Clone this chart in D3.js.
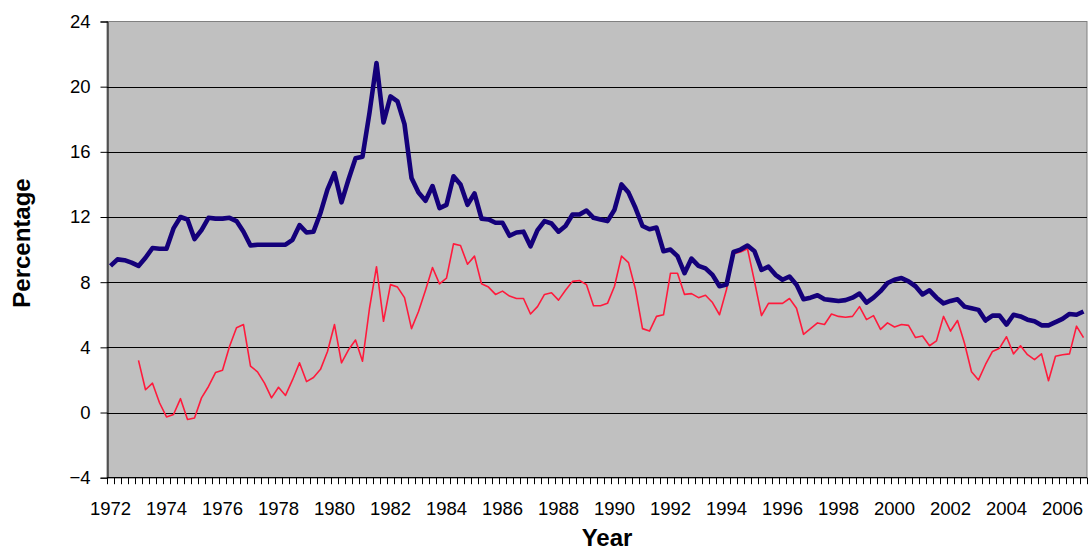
<!DOCTYPE html>
<html lang="en">
<head>
    <meta charset="UTF-8">
    <title>Percentage by Year</title>
    <script src="https://d3js.org/d3.v7.min.js"></script>
    <style>
        body {
            margin: 0;
            padding: 0;
            background: #fff;
            font-family: "Liberation Sans", Arial, sans-serif;
        }

        .tick-label {
            font-size: 18.5px;
            fill: #000;
        }

        .axis-title {
            font-size: 24px;
            font-weight: bold;
            fill: #000;
        }
    </style>
</head>
<body>
    <svg id="chart" width="1088" height="550"></svg>

    <script>
        // quarterly categories 1972 Q1 .. 2006 Q4
        const years = d3.range(1972, 2007);
        const quarters = years.flatMap(y => [1, 2, 3, 4].map(q => `${y}Q${q}`));

        const xTickLabels = ["1972", "1974", "1976", "1978", "1980", "1982", "1984", "1986", "1988",
            "1990", "1992", "1994", "1996", "1998", "2000", "2002", "2004", "2006"];
        const yTicks = [-4, 0, 4, 8, 12, 16, 20, 24];

        // thick navy series
        const blueSeries = [
            9.0, 9.4, 9.35, 9.2, 9.0, 9.5, 10.1, 10.05, 10.05, 11.3,
            12.0, 11.85, 10.65, 11.2, 11.95, 11.9, 11.9, 11.95, 11.75, 11.1,
            10.25, 10.3, 10.3, 10.3, 10.3, 10.3, 10.6, 11.5, 11.05, 11.1,
            12.25, 13.7, 14.7, 12.9, 14.3, 15.6, 15.7, 18.4, 21.45, 17.8,
            19.4, 19.1, 17.7, 14.4, 13.5, 13.0, 13.9, 12.55, 12.75, 14.5,
            14.0, 12.75, 13.45, 11.9, 11.85, 11.65, 11.65, 10.85, 11.05, 11.1,
            10.2, 11.2, 11.75, 11.6, 11.1, 11.45, 12.15, 12.15, 12.4, 11.95,
            11.85, 11.75, 12.45, 14.0, 13.5, 12.55, 11.45, 11.25, 11.35, 9.9,
            10.0, 9.6, 8.55, 9.45, 9.0, 8.85, 8.45, 7.75, 7.85, 9.85,
            10.0, 10.25, 9.9, 8.75, 8.95, 8.45, 8.15, 8.35, 7.85, 6.95,
            7.05, 7.2, 6.95, 6.9, 6.85, 6.9, 7.05, 7.3, 6.75, 7.05,
            7.45, 7.95, 8.15, 8.25, 8.05, 7.75, 7.25, 7.5, 7.05, 6.7,
            6.85, 6.95, 6.5, 6.4, 6.3, 5.65, 5.95, 5.95, 5.4, 6.0,
            5.9, 5.7, 5.6, 5.35, 5.35, 5.55, 5.75, 6.05, 6.0, 6.2
        ];

        // thin red series, starts in 1973
        const redSeries = [
            null, null, null, null,
            3.2, 1.4, 1.8, 0.6, -0.27, -0.12, 0.85, -0.43, -0.33, 0.9,
            1.6, 2.45, 2.6, 4.05, 5.2, 5.4, 2.85, 2.5, 1.8, 0.9,
            1.55, 1.05, 2.0, 3.05, 1.9, 2.15, 2.65, 3.75, 5.4, 3.05,
            3.85, 4.45, 3.15, 6.4, 8.95, 5.6, 7.85, 7.7, 7.05, 5.15,
            6.2, 7.5, 8.9, 7.9, 8.25, 10.35, 10.25, 9.1, 9.6, 7.9,
            7.7, 7.25, 7.45, 7.15, 7.0, 7.0, 6.05, 6.5, 7.25, 7.35,
            6.9, 7.5, 8.05, 8.1, 7.85, 6.55, 6.55, 6.7, 7.75, 9.6,
            9.2, 7.55, 5.15, 5.0, 5.9, 6.0, 8.55, 8.55, 7.25, 7.3,
            7.05, 7.2, 6.75, 6.0, 7.55, 9.75, 9.85, 10.05, 8.05, 5.95,
            6.7, 6.7, 6.7, 7.0, 6.4, 4.8, 5.15, 5.5, 5.4, 6.05,
            5.9, 5.85, 5.9, 6.5, 5.7, 5.95, 5.1, 5.5, 5.25, 5.4,
            5.35, 4.6, 4.7, 4.1, 4.4, 5.9, 5.0, 5.65, 4.25, 2.5,
            2.0, 2.95, 3.75, 3.95, 4.65, 3.6, 4.1, 3.55, 3.25, 3.6,
            1.95, 3.45, 3.55, 3.6, 5.3, 4.6
        ];

        const plotLeft = 107, plotRight = 1087, plotTop = 21.5, plotBottom = 477.7;
        const svg = d3.select("#chart");

        const x = d3.scaleBand()
            .domain(quarters)
            .range([plotLeft, plotRight])
            .paddingInner(0)
            .paddingOuter(0);

        const y = d3.scaleLinear()
            .domain([-4, 24])
            .range([plotBottom, plotTop]);

        const cx = q => x(q) + x.bandwidth() / 2;

        // plot area
        svg.append("rect")
            .attr("x", plotLeft)
            .attr("y", plotTop)
            .attr("width", plotRight - plotLeft)
            .attr("height", plotBottom - plotTop)
            .attr("fill", "#c0c0c0")
            .attr("stroke", "#808080")
            .attr("stroke-width", 1);

        // gridlines
        svg.append("g")
            .selectAll("line")
            .data(yTicks.filter(d => d > -4 && d < 24))
            .join("line")
            .attr("x1", plotLeft)
            .attr("x2", plotRight)
            .attr("y1", d => Math.round(y(d)) + 0.5)
            .attr("y2", d => Math.round(y(d)) + 0.5)
            .attr("stroke", "#000")
            .attr("stroke-width", 1);

        // y axis
        const yAxis = svg.append("g")
            .attr("transform", `translate(${plotLeft + 0.5},0)`)
            .call(d3.axisLeft(y).tickValues(yTicks).tickSize(7).tickPadding(10));
        yAxis.select(".domain").attr("stroke", "#000");
        yAxis.selectAll(".tick line").attr("stroke", "#000");
        yAxis.selectAll(".tick text")
            .attr("class", "tick-label")
            .style("font-family", "'Liberation Sans', Arial, sans-serif");

        // x axis: tick marks at quarter boundaries
        const xAxisG = svg.append("g");
        xAxisG.append("line")
            .attr("x1", plotLeft)
            .attr("x2", plotRight)
            .attr("y1", plotBottom)
            .attr("y2", plotBottom)
            .attr("stroke", "#000")
            .attr("stroke-width", 1.2);
        xAxisG.selectAll("line.qtick")
            .data(quarters.concat(["end"]))
            .join("line")
            .attr("class", "qtick")
            .attr("x1", (d, i) => Math.round(plotLeft + i * x.bandwidth()) + 0.5)
            .attr("x2", (d, i) => Math.round(plotLeft + i * x.bandwidth()) + 0.5)
            .attr("y1", plotBottom)
            .attr("y2", plotBottom + 6.5)
            .attr("stroke", "#000")
            .attr("stroke-width", 1);
        xAxisG.selectAll("text")
            .data(xTickLabels)
            .join("text")
            .attr("class", "tick-label")
            .attr("x", d => cx(`${d}Q1`))
            .attr("y", 515)
            .attr("text-anchor", "middle")
            .text(d => d);

        // series
        const line = d3.line()
            .defined(d => d.v !== null)
            .x(d => cx(d.q))
            .y(d => y(d.v));

        svg.append("path")
            .datum(quarters.map((q, i) => ({ q, v: redSeries[i] })))
            .attr("fill", "none")
            .attr("stroke", "#ff1a3c")
            .attr("stroke-width", 1.6)
            .attr("stroke-linejoin", "round")
            .attr("d", line);

        svg.append("path")
            .datum(quarters.map((q, i) => ({ q, v: blueSeries[i] })))
            .attr("fill", "none")
            .attr("stroke", "#14007a")
            .attr("stroke-width", 4.6)
            .attr("stroke-linejoin", "round")
            .attr("d", line);

        // axis titles
        svg.append("text")
            .attr("class", "axis-title")
            .attr("transform", "translate(30,243) rotate(-90)")
            .attr("text-anchor", "middle")
            .text("Percentage");

        svg.append("text")
            .attr("class", "axis-title")
            .attr("x", 607)
            .attr("y", 546)
            .attr("text-anchor", "middle")
            .text("Year");
    </script>
</body>
</html>
